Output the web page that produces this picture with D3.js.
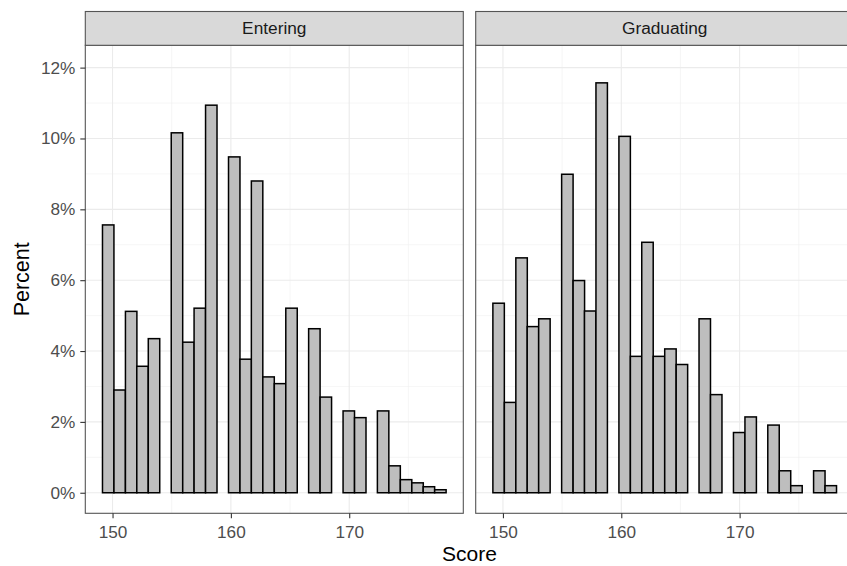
<!DOCTYPE html>
<html>
<head>
<meta charset="utf-8">
<script src="https://cdn.jsdelivr.net/npm/d3@7"></script>
<style>
  body { margin: 0; background: #fff; }
  text { font-family: "Liberation Sans", Arial, sans-serif; }
</style>
</head>
<body>
<div id="chart"></div>
<script>
// Faceted histogram of scores, Entering vs Graduating
const facets = ["Entering", "Graduating"];

// lower edge of each bin (bin width below)
const binStarts = [149.15, 150.12, 151.09, 152.05, 153.02, 153.99, 154.96, 155.93, 156.89, 157.86,
                   158.83, 159.80, 160.77, 161.73, 162.70, 163.67, 164.64, 165.61, 166.57, 167.54,
                   168.51, 169.48, 170.45, 171.41, 172.38, 173.35, 174.32, 175.29, 176.25, 177.22];
const binWidth = 0.968;

// percent of students per bin
const entering = [7.56, 2.90, 5.12, 3.57, 4.35, 0, 10.16, 4.25, 5.21, 10.94,
                  0, 9.48, 3.77, 8.80, 3.27, 3.08, 5.21, 0, 4.63, 2.70,
                  0, 2.31, 2.12, 0, 2.31, 0.76, 0.37, 0.28, 0.17, 0.085];
const graduating = [5.35, 2.55, 6.63, 4.69, 4.91, 0, 8.99, 5.99, 5.13, 11.57,
                    0, 10.06, 3.85, 7.07, 3.85, 4.06, 3.62, 0, 4.91, 2.77,
                    0, 1.70, 2.14, 0, 1.91, 0.62, 0.20, 0, 0.62, 0.20];

const xTicks = [150, 160, 170];
const xMinor = [155, 165, 175];
const yTicks = [0, 2, 4, 6, 8, 10, 12];
const yMinor = [1, 3, 5, 7, 9, 11];

const W = 847, H = 566;
const panelW = 378, panelGap = 12.4;
const panelLeft = 85.3, panelTop = 45.3, panelBottom = 513.3, stripTop = 11.5;

const svg = d3.select("#chart").append("svg")
    .attr("width", W).attr("height", H);

const lo = binStarts[0], hi = binStarts[binStarts.length - 1] + binWidth;
const pad = (hi - lo) * 0.05;
const x = d3.scaleLinear().domain([lo - pad, hi + pad]).range([0, panelW]);
const y = d3.scaleLinear().domain([-0.58, 12.63]).range([panelBottom, panelTop]);

const series = [entering, graduating];

facets.forEach((name, fi) => {
    const g = svg.append("g")
        .attr("transform", `translate(${panelLeft + fi * (panelW + panelGap)},0)`);

    // grid
    g.selectAll(".minor-y").data(yMinor).enter().append("line")
        .attr("x1", 0).attr("x2", panelW)
        .attr("y1", d => y(d)).attr("y2", d => y(d))
        .attr("stroke", "#F0F0F0").attr("stroke-width", 0.6);
    g.selectAll(".minor-x").data(xMinor).enter().append("line")
        .attr("x1", d => x(d)).attr("x2", d => x(d))
        .attr("y1", panelTop).attr("y2", panelBottom)
        .attr("stroke", "#F0F0F0").attr("stroke-width", 0.6);
    g.selectAll(".major-y").data(yTicks).enter().append("line")
        .attr("x1", 0).attr("x2", panelW)
        .attr("y1", d => y(d)).attr("y2", d => y(d))
        .attr("stroke", "#EBEBEB").attr("stroke-width", 1.1);
    g.selectAll(".major-x").data(xTicks).enter().append("line")
        .attr("x1", d => x(d)).attr("x2", d => x(d))
        .attr("y1", panelTop).attr("y2", panelBottom)
        .attr("stroke", "#EBEBEB").attr("stroke-width", 1.1);

    // bars (empty bins are not drawn)
    const bins = binStarts.map((b, i) => ({ x0: b, x1: b + binWidth, v: series[fi][i] }))
        .filter(d => d.v > 0);
    g.selectAll(".bar").data(bins).enter().append("rect")
        .attr("x", d => x(d.x0))
        .attr("width", d => x(d.x1) - x(d.x0))
        .attr("y", d => y(d.v))
        .attr("height", d => y(0) - y(d.v))
        .attr("fill", "#BEBEBE")
        .attr("stroke", "#000")
        .attr("stroke-width", 1.5);

    // panel border
    g.append("rect")
        .attr("x", 0).attr("y", panelTop)
        .attr("width", panelW).attr("height", panelBottom - panelTop)
        .attr("fill", "none").attr("stroke", "#555").attr("stroke-width", 1.1);

    // strip
    g.append("rect")
        .attr("x", 0).attr("y", stripTop)
        .attr("width", panelW).attr("height", panelTop - stripTop)
        .attr("fill", "#D9D9D9").attr("stroke", "#555").attr("stroke-width", 1.1);
    g.append("text")
        .attr("x", panelW / 2).attr("y", (stripTop + panelTop) / 2)
        .attr("text-anchor", "middle").attr("dominant-baseline", "central")
        .attr("font-size", 17.3).attr("fill", "#1A1A1A")
        .text(name);

    // x axis
    const xAxis = g.append("g")
        .attr("transform", `translate(0,${panelBottom})`)
        .call(d3.axisBottom(x).tickValues(xTicks).tickSize(5).tickPadding(7.5));
    xAxis.select(".domain").remove();
    xAxis.selectAll("line").attr("stroke", "#333").attr("stroke-width", 1.1);
    xAxis.selectAll("text").attr("font-size", 17.2).attr("fill", "#4D4D4D")
        .attr("font-family", "Liberation Sans, Arial, sans-serif");

    // y axis on first panel only
    if (fi === 0) {
        const yAxis = g.append("g")
            .call(d3.axisLeft(y).tickValues(yTicks).tickSize(5).tickPadding(5)
                .tickFormat(d => d + "%"));
        yAxis.select(".domain").remove();
        yAxis.selectAll("line").attr("stroke", "#333").attr("stroke-width", 1.1);
        yAxis.selectAll("text").attr("font-size", 17.2).attr("fill", "#4D4D4D")
            .attr("font-family", "Liberation Sans, Arial, sans-serif");
    }
});

// axis titles
svg.append("text")
    .attr("x", panelLeft + (2 * panelW + panelGap) / 2).attr("y", 561)
    .attr("text-anchor", "middle")
    .attr("font-size", 21).attr("fill", "#000")
    .text("Score");

svg.append("text")
    .attr("transform", `translate(29,${(panelTop + panelBottom) / 2}) rotate(-90)`)
    .attr("text-anchor", "middle")
    .attr("font-size", 21.5).attr("fill", "#000")
    .text("Percent");
</script>
</body>
</html>
